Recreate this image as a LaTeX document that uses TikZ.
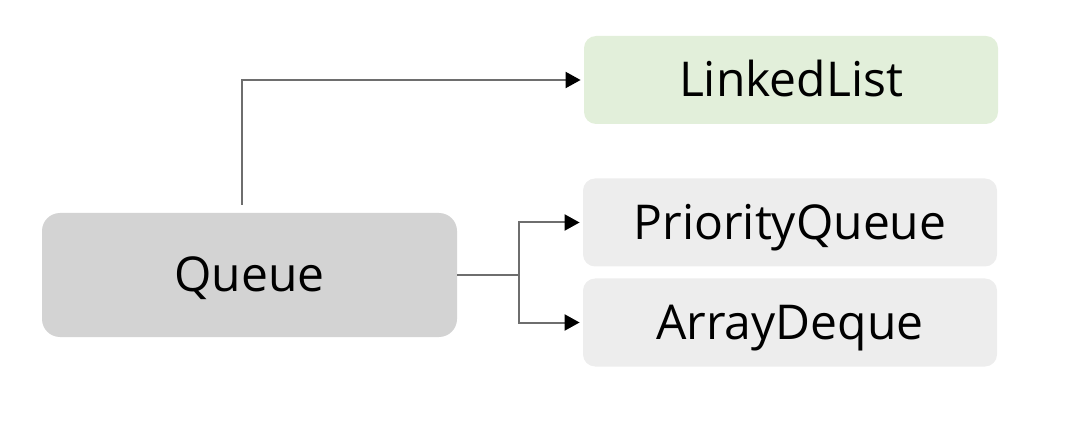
\documentclass[tikz,border=0pt]{standalone}
\usepackage{fontspec}
\setmainfont{Open Sans}
\usetikzlibrary{arrows.meta}
\definecolor{basegray}{HTML}{D3D3D3}
\definecolor{implgreen}{HTML}{E2EFDA}
\definecolor{implgray}{HTML}{EDEDED}
\definecolor{wiregray}{HTML}{6E6E6E}
\begin{document}
\begin{tikzpicture}[x=0.5pt,y=-0.5pt,
    base/.style={fill=basegray,rounded corners=9pt,minimum width=207.5pt,minimum height=62pt,
      text height=17pt,text depth=0pt,font=\fontsize{24}{28}\selectfont},
    impl/.style={fill=implgray,rounded corners=6pt,minimum width=207pt,minimum height=44pt,
      text height=17pt,text depth=0pt,font=\fontsize{24}{28}\selectfont},
    link/.style={draw=wiregray,line width=1pt,-{Triangle[length=7.5pt,width=8pt,black]},shorten >=1.5pt}]
  \useasboundingbox (0,0) rectangle (1092,422);
  \node[base] (queue) at (249.5,275) {Queue};
  \node[impl,fill=implgreen] (linked) at (791,80) {LinkedList};
  \node[impl] (prio) at (790,222.5) {PriorityQueue};
  \node[impl] (deque) at (790,322.5) {ArrayDeque};
  \draw[link] ([xshift=-3.75pt,yshift=4pt]queue.north) |- (linked.west);
  \draw[draw=wiregray,line width=1pt] (queue.east) -- ++(62,0) coordinate (fork);
  \begin{scope}[link]
    \draw (fork) |- (prio.west);
    \draw (fork) |- (deque.west);
  \end{scope}
\end{tikzpicture}
\end{document}
